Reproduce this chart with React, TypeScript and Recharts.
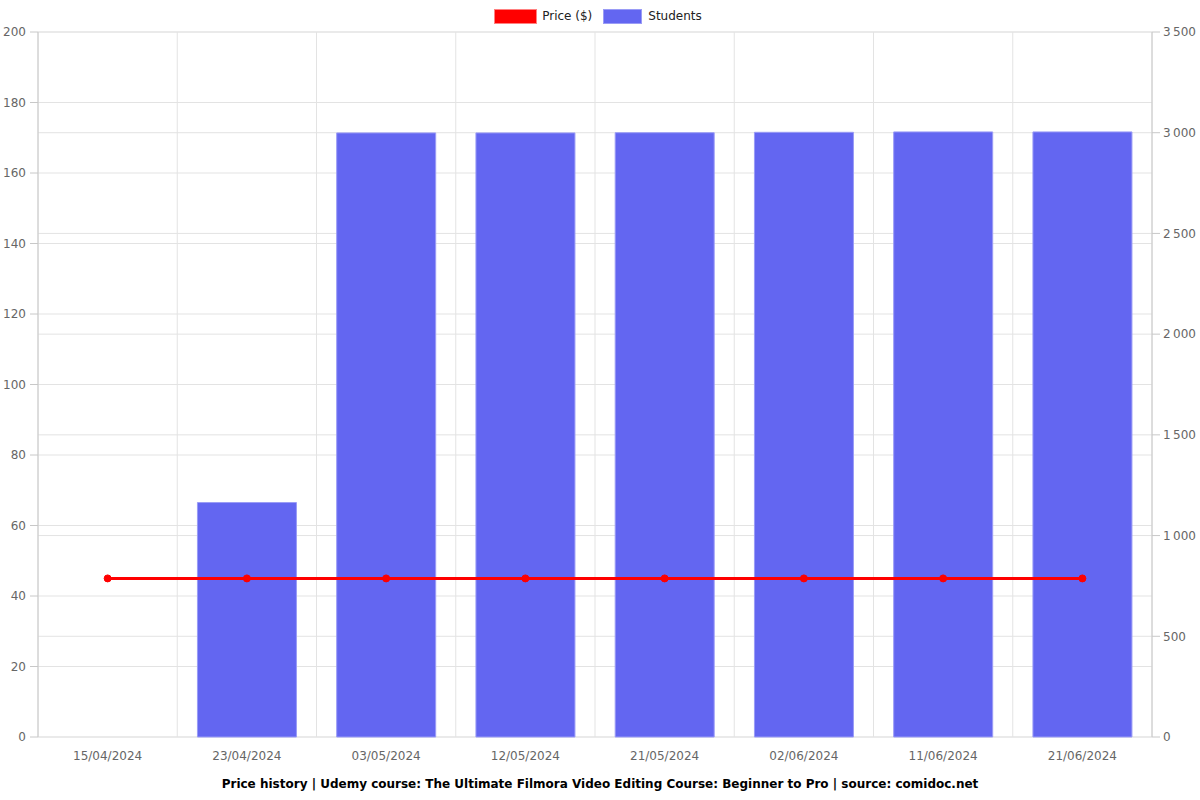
import React from 'react';
import {
  ComposedChart,
  Bar,
  Line,
  XAxis,
  YAxis,
  CartesianGrid,
  Legend,
} from 'recharts';

const dates = [
  '15/04/2024',
  '23/04/2024',
  '03/05/2024',
  '12/05/2024',
  '21/05/2024',
  '02/06/2024',
  '11/06/2024',
  '21/06/2024',
];
const prices = [44.99, 44.99, 44.99, 44.99, 44.99, 44.99, 44.99, 44.99];
const students = [0, 1164, 2999, 2999, 3000, 3002, 3004, 3004];
const priceTicks = [0, 20, 40, 60, 80, 100, 120, 140, 160, 180, 200];
const studentTicks = [0, 500, 1000, 1500, 2000, 2500, 3000, 3500];
const boundaryTicks = [0, 1, 2, 3, 4, 5, 6, 7, 8];

const data = dates.map((date, i) => ({
  date,
  price: prices[i],
  students: students[i],
  slot: i + 0.5,
}));

const TITLE =
  'Price history | Udemy course: The Ultimate Filmora Video Editing Course: Beginner to Pro | source: comidoc.net';

const GRID = '#e3e3e3';
const AXIS = '#c8c8c8';
const TICK = { fill: '#666', fontSize: 12 };

// thin space between thousands, like "3 500"
const fmtStudents = (v: number) =>
  v >= 1000 ? `${Math.floor(v / 1000)}\u2009${String(v % 1000).padStart(3, '0')}` : String(v);

function TopLegend() {
  return (
    <div
      style={{
        display: 'flex',
        justifyContent: 'center',
        alignItems: 'center',
        height: 32,
        fontSize: 12,
        color: '#222',
        paddingLeft: 84,
      }}
    >
      <span
        style={{
          display: 'inline-block',
          width: 43,
          height: 15,
          background: '#ff0000',
          boxSizing: 'border-box',
          border: '1px solid #ff8080',
          marginRight: 5,
        }}
      />
      <span style={{ marginRight: 11 }}>Price ($)</span>
      <span
        style={{
          display: 'inline-block',
          width: 39,
          height: 15,
          background: '#6366f1',
          boxSizing: 'border-box',
          border: '1px solid #9a9cf6',
          marginRight: 6,
        }}
      />
      <span>Students</span>
    </div>
  );
}

const NoLabel = () => <g />;

export default function App() {
  return (
    <div
      style={{
        position: 'absolute',
        left: 0,
        top: 0,
        width: 1200,
        height: 800,
        background: '#fff',
        fontFamily: '"DejaVu Sans", sans-serif',
      }}
    >
      <ComposedChart
        width={1200}
        height={800}
        data={data}
        margin={{ top: 0, right: 0, bottom: 0, left: 0 }}
        barCategoryGap="14.5%"
      >
        <CartesianGrid xAxisId="grid" yAxisId="left" stroke={GRID} />
        <CartesianGrid xAxisId="grid" yAxisId="right" stroke={GRID} vertical={false} />
        <XAxis
          xAxisId="grid"
          dataKey="slot"
          type="number"
          domain={[0, 8]}
          ticks={boundaryTicks}
          interval={0}
          height={0}
          tick={NoLabel}
          tickSize={7}
          stroke={AXIS}
          allowDataOverflow
        />
        <XAxis
          xAxisId="cat"
          dataKey="date"
          height={63}
          tickLine={false}
          axisLine={false}
          tick={TICK}
          tickMargin={8}
          interval={0}
          label={{
            value: TITLE,
            position: 'insideBottom',
            offset: 12,
            dx: 5,
            fill: '#000',
            fontSize: 12,
            fontWeight: 'bold',
          }}
        />
        <YAxis
          yAxisId="left"
          orientation="left"
          width={38}
          domain={[0, 200]}
          ticks={priceTicks}
          tick={TICK}
          tickSize={8}
          tickMargin={4}
          stroke={AXIS}
        />
        <YAxis
          yAxisId="right"
          orientation="right"
          width={48}
          domain={[0, 3500]}
          ticks={studentTicks}
          tick={TICK}
          tickSize={8}
          tickMargin={3}
          tickFormatter={fmtStudents}
          stroke={AXIS}
        />
        <Legend
          verticalAlign="top"
          height={32}
          content={() => <TopLegend />}
          wrapperStyle={{ top: 0, left: 0, width: 1112 }}
        />
        <Bar
          xAxisId="cat"
          yAxisId="right"
          dataKey="students"
          name="Students"
          fill="#6366f1"
          stroke="#9a9cf6"
          strokeWidth={1}
          isAnimationActive={false}
        />
        <Line
          xAxisId="cat"
          yAxisId="left"
          dataKey="price"
          name="Price ($)"
          stroke="#ff0000"
          strokeWidth={3}
          dot={{ r: 3.5, fill: '#ff0000', stroke: '#ff0000', strokeWidth: 1 }}
          type="linear"
          isAnimationActive={false}
        />
      </ComposedChart>
    </div>
  );
}
